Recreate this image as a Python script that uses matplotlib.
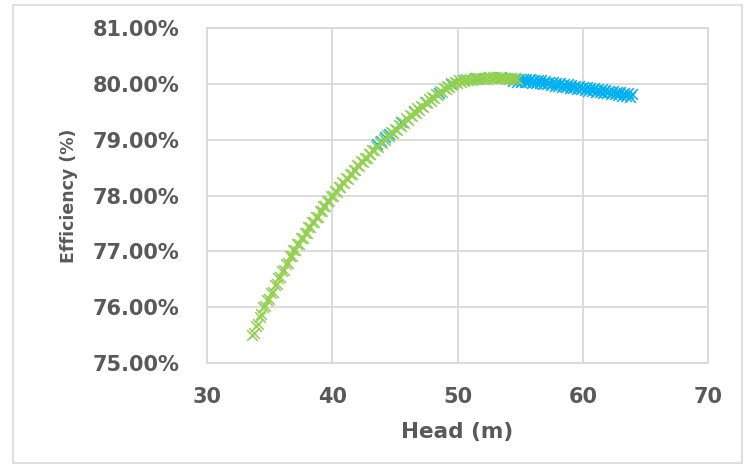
import matplotlib
matplotlib.use("Agg")
import matplotlib.pyplot as plt
from matplotlib.patches import Rectangle

# ---- data (efficiency in %) ----
green_head = [33.6, 33.9, 34.2, 34.5, 34.8, 35.1, 35.4, 35.7, 36.0, 36.3, 36.6, 36.9,
              37.2, 37.5, 37.8, 38.1, 38.4, 38.7, 39.0, 39.3, 39.6, 39.9, 40.2, 40.5,
              40.8, 41.1, 41.4, 41.7, 42.0, 42.3, 42.6, 42.9, 43.2, 43.5, 43.8, 44.1,
              44.4, 44.7, 45.0, 45.3, 45.6, 45.9, 46.2, 46.5, 46.8, 47.1, 47.4, 47.7,
              48.0, 48.3, 48.6, 48.9, 49.2, 49.5, 49.8, 50.1, 50.4, 50.7, 51.0, 51.3,
              51.6, 51.9, 52.2, 52.5, 52.8, 53.1, 53.4, 53.7, 54.0, 54.3, 54.6]
green_eff = [75.50, 75.66, 75.83, 76.00, 76.13, 76.26, 76.39, 76.52, 76.65, 76.78, 76.91, 77.03,
             77.13, 77.23, 77.33, 77.43, 77.52, 77.62, 77.72, 77.81, 77.91, 78.00, 78.08, 78.16,
             78.24, 78.31, 78.39, 78.46, 78.54, 78.61, 78.68, 78.75, 78.82, 78.89, 78.95, 79.02,
             79.08, 79.14, 79.20, 79.26, 79.32, 79.38, 79.44, 79.50, 79.56, 79.61, 79.67, 79.72,
             79.77, 79.82, 79.87, 79.92, 79.97, 80.01, 80.04, 80.06, 80.07, 80.08, 80.09, 80.10,
             80.10, 80.11, 80.11, 80.12, 80.12, 80.12, 80.12, 80.11, 80.11, 80.10, 80.10]

green2_head = [33.75, 34.05, 34.35, 34.65, 34.95, 35.25, 35.55, 35.85, 36.15, 36.45, 36.75, 37.05,
               37.35, 37.65, 37.95, 38.25, 38.55, 38.85, 39.15, 39.45, 39.75, 40.05, 40.35, 40.65,
               40.95, 41.25, 41.55, 41.85, 42.15, 42.45, 42.75, 43.05, 43.35, 43.65, 43.95, 44.25,
               44.55, 44.85, 45.15, 45.45, 45.75, 46.05, 46.35, 46.65, 46.95, 47.25, 47.55, 47.85,
               48.15, 48.45, 48.75, 49.05, 49.35, 49.65, 49.95, 50.25, 50.55, 50.85, 51.15, 51.45,
               51.75, 52.05, 52.35, 52.65, 52.95, 53.25, 53.55, 53.85, 54.15, 54.45, 54.75]
green2_eff = [75.53, 75.70, 75.87, 76.02, 76.15, 76.28, 76.41, 76.54, 76.67, 76.80, 76.92, 77.03,
              77.13, 77.23, 77.33, 77.43, 77.52, 77.62, 77.72, 77.81, 77.91, 77.99, 78.07, 78.15,
              78.23, 78.30, 78.38, 78.45, 78.53, 78.60, 78.67, 78.74, 78.81, 78.87, 78.94, 79.00,
              79.06, 79.12, 79.18, 79.24, 79.30, 79.36, 79.42, 79.48, 79.54, 79.59, 79.65, 79.70,
              79.75, 79.80, 79.85, 79.90, 79.95, 79.99, 80.02, 80.04, 80.05, 80.06, 80.07, 80.08,
              80.08, 80.09, 80.09, 80.10, 80.10, 80.10, 80.10, 80.09, 80.09, 80.08, 80.08]

blue_head = [43.6, 43.9, 44.2, 44.5, 45.5, 46.5, 47.5, 48.5, 49.5, 50.5, 51.5, 52.5, 53.5,
             54.3, 54.6, 54.9, 55.2, 55.5, 55.8, 56.1, 56.4, 56.7, 57.0, 57.3, 57.6, 57.9,
             58.2, 58.5, 58.8, 59.1, 59.4, 59.7, 60.0, 60.3, 60.6, 60.9, 61.2, 61.5, 61.8,
             62.1, 62.4, 62.7, 63.0, 63.3, 63.6, 63.9]
blue_eff = [78.92, 78.98, 79.05, 79.11, 79.31, 79.51, 79.68, 79.84, 79.99, 80.07, 80.10, 80.12, 80.12,
            80.11, 80.10, 80.09, 80.09, 80.08, 80.08, 80.07, 80.06, 80.06, 80.05, 80.04, 80.03, 80.02,
            80.01, 80.00, 79.99, 79.98, 79.97, 79.96, 79.95, 79.94, 79.93, 79.92, 79.91, 79.90, 79.89,
            79.88, 79.87, 79.86, 79.85, 79.84, 79.83, 79.82]

blue2_head = [54.45, 54.75, 55.05, 55.35, 55.65, 55.95, 56.25, 56.55, 56.85, 57.15, 57.45, 57.75,
              58.05, 58.35, 58.65, 58.95, 59.25, 59.55, 59.85, 60.15, 60.45, 60.75, 61.05, 61.35,
              61.65, 61.95, 62.25, 62.55, 62.85, 63.15, 63.45, 63.75]
blue2_eff = [80.05, 80.04, 80.04, 80.03, 80.03, 80.02, 80.01, 80.01, 80.00, 79.99, 79.98, 79.97,
             79.96, 79.95, 79.94, 79.93, 79.92, 79.91, 79.90, 79.89, 79.88, 79.87, 79.86, 79.85,
             79.84, 79.83, 79.82, 79.81, 79.80, 79.79, 79.78, 79.77]

x_ticks = [30, 40, 50, 60, 70]
y_ticks = [75, 76, 77, 78, 79, 80, 81]
y_tick_labels = ["75.00%", "76.00%", "77.00%", "78.00%", "79.00%", "80.00%", "81.00%"]

TEXT = "#595959"
GRID = "#d9d9d9"
BLUE = "#00B0F0"
GREEN = "#92D050"

fig = plt.figure(figsize=(7.45, 4.65), dpi=100)
ax = fig.add_axes([207/745, 1 - 363/465, (708-207)/745, (363-28)/465])

mk = dict(marker="x", s=60, linewidths=1.1)
ax.scatter(blue_head, blue_eff, color=BLUE, zorder=3, **mk)
ax.scatter(blue2_head, blue2_eff, color=BLUE, zorder=3, **mk)
ax.scatter(green_head, green_eff, color=GREEN, zorder=4, **mk)
ax.scatter(green2_head, green2_eff, color=GREEN, zorder=4, **mk)

ax.set_xlim(30, 70)
ax.set_ylim(75, 81)
ax.set_xticks(x_ticks)
ax.set_yticks(y_ticks)
ax.set_yticklabels(y_tick_labels)
ax.grid(True, color=GRID, linewidth=1.3)
ax.set_axisbelow(True)
for s in ax.spines.values():
    s.set_color(GRID)
    s.set_linewidth(1.3)
ax.tick_params(length=0, labelsize=15, labelcolor=TEXT)
for lab in ax.get_xticklabels() + ax.get_yticklabels():
    lab.set_fontweight("bold")
ax.tick_params(axis="y", pad=20)
ax.tick_params(axis="x", pad=17)

ax.set_xlabel("Head (m)", fontsize=15.5, fontweight="bold", color=TEXT)
ax.xaxis.set_label_coords(0.5, -0.175)
ax.set_ylabel("Efficiency (%)", fontsize=12.5, fontweight="bold", color=TEXT)
ax.yaxis.set_label_coords(-0.257, 0.5)

fig.patches.append(Rectangle((13/745, 2/465), (742-13)/745, (460-2)/465,
                             transform=fig.transFigure, fill=False,
                             edgecolor=GRID, linewidth=1.2))

fig.savefig("out.png", dpi=100)
